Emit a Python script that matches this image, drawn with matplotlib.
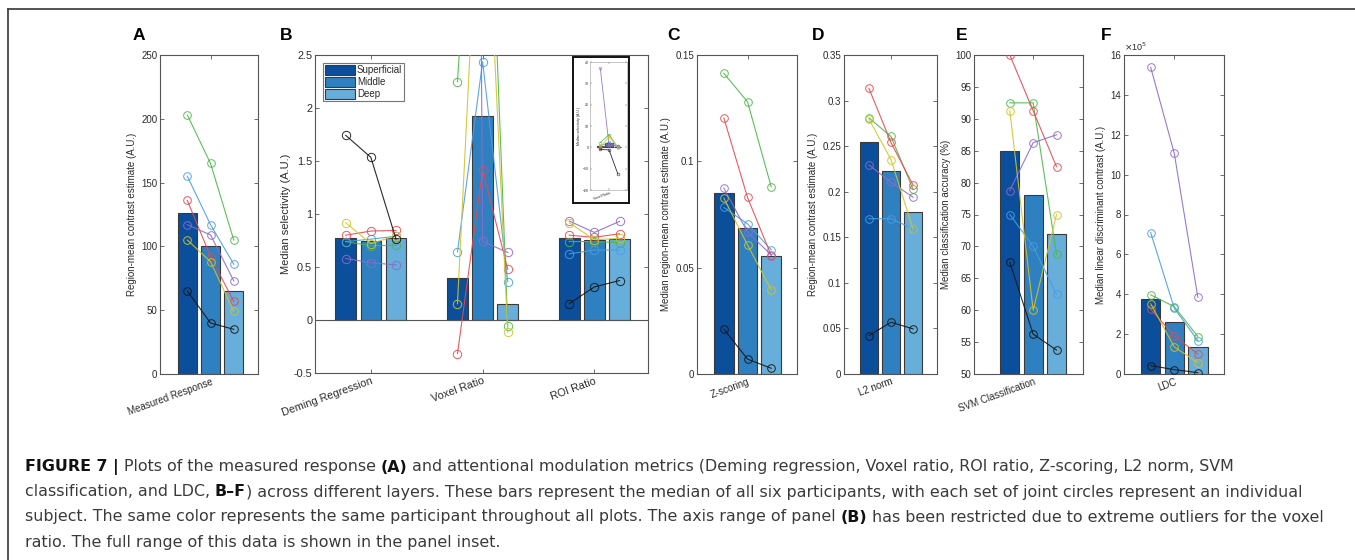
import numpy as np
import matplotlib
matplotlib.use('Agg')
import matplotlib.pyplot as plt
from matplotlib.patches import Rectangle
from matplotlib.lines import Line2D
from matplotlib.ticker import FuncFormatter

plt.rcParams['font.family'] = ['Liberation Sans', 'DejaVu Sans']

layers = ['Superficial', 'Middle', 'Deep']
bar_colors = ['#0b4f9c', '#2f80c0', '#68aedb']
subj_colors = ['#4cb848', '#4a9de0', '#e8484f', '#8e6bc9', '#cfc42a', '#151515']
# subject order: green, blue, red, purple, yellow, black

# A - measured response
measured_med = [126, 100.5, 64.7]
measured_subj = [[203, 165, 105], [155, 117, 86], [136, 92, 57],
                 [117, 109, 73], [105, 88, 49], [65, 40, 35]]

# B - selectivity metrics (Deming, Voxel ratio, ROI ratio)
sel_groups = ['Deming Regression', 'Voxel Ratio', 'ROI Ratio']
sel_med = [[0.773, 0.747, 0.773],
           [0.394, 1.928, 0.154],
           [0.773, 0.754, 0.760]]
sel_subj = [
    # Deming
    [[0.74, 0.70, 0.706], [0.74, 0.763, 0.79], [0.80, 0.839, 0.845],
     [0.58, 0.54, 0.52], [0.918, 0.72, 0.795], [1.742, 1.534, 0.763]],
    # Voxel ratio
    [[2.247, 6.0, -0.06], [0.643, 2.437, 0.362], [-0.317, 1.417, 0.479],
     [37.0, 0.741, 0.637], [0.154, 4.9, -0.115], [-1.0, -1.2, -12.5]],
    # ROI ratio
    [[0.74, 0.74, 0.73], [0.624, 0.66, 0.66], [0.80, 0.78, 0.814],
     [0.934, 0.826, 0.93], [0.918, 0.757, 0.77], [0.154, 0.312, 0.372]],
]

# C - Z-scoring
z_med = [0.085, 0.0686, 0.0556]
z_subj = [[0.1414, 0.128, 0.088], [0.0783, 0.0706, 0.0584], [0.1204, 0.083, 0.0557],
          [0.0874, 0.0667, 0.056], [0.0827, 0.0607, 0.0396], [0.0211, 0.007, 0.0027]]

# D - L2 norm
l2_med = [0.2547, 0.2228, 0.1777]
l2_subj = [[0.281, 0.2606, 0.2027], [0.1704, 0.1704, 0.1594], [0.3133, 0.254, 0.2074],
           [0.2294, 0.2104, 0.194], [0.2796, 0.2353, 0.159], [0.0421, 0.0568, 0.0495]]

# E - SVM classification accuracy (%)
svm_med = [85.0, 78.1, 71.9]
svm_subj = [[92.5, 92.5, 68.75], [75.0, 70.0, 62.5], [100.0, 91.25, 82.5],
            [78.75, 86.25, 87.5], [91.25, 60.0, 75.0], [67.5, 56.25, 53.75]]

# F - LDC (x 1e5)
ldc_med_e5 = [3.77, 2.60, 1.37]
ldc_subj_e5 = [[3.97, 3.38, 1.88], [7.09, 3.30, 1.68], [3.25, 1.91, 1.005],
               [15.38, 11.07, 3.85], [3.52, 1.36, 0.57], [0.42, 0.22, 0.07]]

W, H = 1355, 560
fig = plt.figure(figsize=(W / 100, H / 100), dpi=100)

def fax(x0, y0, x1, y1):
    # pixel box -> figure fraction
    return [x0 / W, 1 - y1 / H, (x1 - x0) / W, (y1 - y0) / H]

off = 0.225
bw = 0.185
axc = '#555555'
txtc = '#2a2a2a'
gfmt = FuncFormatter(lambda v, p: '%g' % round(v, 6))

def style(ax, fs):
    for s in ax.spines.values():
        s.set_color(axc)
        s.set_linewidth(0.8)
    ax.tick_params(direction='in', top=True, right=True, length=3, width=0.6,
                   color=axc, labelsize=fs, labelcolor=txtc, pad=2)

def draw_group(ax, xc, med, subj, ms=5.5):
    xs = [xc - off, xc, xc + off]
    for x, v, c in zip(xs, med, bar_colors):
        ax.bar(x, v, width=bw, color=c, edgecolor='#3a3a3a', linewidth=0.8, zorder=2)
    for vals, c in zip(subj, subj_colors):
        ax.plot(xs, vals, '-o', color=c, lw=0.8, ms=ms, mfc='none', mew=0.7,
                alpha=0.9, zorder=3)

def single_panel(rect, med, subj, ylim, yticks, label, ylab, xl, fs=7):
    ax = fig.add_axes(rect)
    draw_group(ax, 1, med, subj)
    ax.set_xlim(*xl)
    ax.set_ylim(*ylim)
    ax.set_yticks(yticks)
    ax.yaxis.set_major_formatter(gfmt)
    ax.set_xticks([1])
    ax.set_xticklabels([label], rotation=20, ha='right', rotation_mode='anchor',
                       fontsize=fs - 0.3)
    ax.set_ylabel(ylab, fontsize=fs, color=txtc, labelpad=3)
    style(ax, fs)
    return ax

axA = single_panel(fax(160, 55, 258, 374), measured_med, measured_subj, (0, 250),
                   np.arange(0, 251, 50), 'Measured Response',
                   'Region-mean contrast estimate (A.U.)', (0.51, 1.46))

# B
axB = fig.add_axes(fax(315, 55, 648, 373))
for i, g in enumerate(sel_groups):
    draw_group(axB, i + 1, sel_med[i], sel_subj[i], ms=6)
axB.axhline(0, color='#555555', lw=0.8, zorder=2.5)
axB.set_xlim(0.5, 3.48)
axB.set_ylim(-0.5, 2.5)
axB.set_yticks(np.arange(-0.5, 2.51, 0.5))
axB.yaxis.set_major_formatter(gfmt)
axB.set_xticks([1, 2, 3])
axB.set_xticklabels(sel_groups, rotation=20, ha='right', rotation_mode='anchor',
                    fontsize=7.8)
axB.set_ylabel('Median selectivity (A.U.)', fontsize=8, color=txtc, labelpad=2)
style(axB, 7.8)
handles = [Rectangle((0, 0), 1, 1, facecolor=c, edgecolor='#3a3a3a', lw=0.8)
           for c in bar_colors]
leg = axB.legend(handles, layers, loc='upper left', bbox_to_anchor=(0.024, 0.975),
                 fontsize=7, frameon=True, fancybox=False, edgecolor='#555555',
                 handlelength=3.1, handleheight=1.15, handletextpad=0.2,
                 borderpad=0.2, labelspacing=0.2, borderaxespad=0)
leg.get_frame().set_linewidth(0.8)
for t in leg.get_texts():
    t.set_color(txtc)

# inset with full voxel ratio range
fig.patches.append(Rectangle((573 / W, 1 - 203 / H), 56 / W, 146 / H,
                             transform=fig.transFigure, facecolor='white',
                             edgecolor='#111111', lw=1.4, zorder=5))
axI = fig.add_axes(fax(590, 62, 627, 190), zorder=6)
draw_group(axI, 1, sel_med[1], sel_subj[1], ms=2)
for ln in axI.lines:
    ln.set_linewidth(0.6)
    ln.set_markeredgewidth(0.4)
axI.set_xlim(0.51, 1.46)
axI.set_ylim(-20, 40)
axI.set_yticks(np.arange(-20, 41, 10))
axI.set_xticks([1])
axI.set_xticklabels(['Voxel Ratio'], rotation=20, ha='right', rotation_mode='anchor',
                    fontsize=2.5)
axI.set_ylabel('Median selectivity (A.U.)', fontsize=2.5, color=txtc, labelpad=1)
style(axI, 2.5)
axI.tick_params(length=1.2, width=0.3, pad=1)
for s in axI.spines.values():
    s.set_linewidth(0.4)
    s.set_color('#999999')

axC = single_panel(fax(697, 55, 797, 374), z_med, z_subj, (0, 0.15),
                   [0, 0.05, 0.1, 0.15], 'Z-scoring',
                   'Median region-mean contrast estimate (A.U.)', (0.52, 1.47))
axD = single_panel(fax(844, 55, 937, 374), l2_med, l2_subj, (0, 0.35),
                   np.arange(0, 0.351, 0.05), 'L2 norm',
                   'Region-mean contrast estimate (A.U.)', (0.52, 1.47))
axE = single_panel(fax(974, 55, 1083, 374), svm_med, svm_subj, (50, 100),
                   np.arange(50, 101, 5), 'SVM Classification',
                   'Median classification accuracy (%)', (0.43, 1.48))
axF = single_panel(fax(1124, 55, 1224, 374), ldc_med_e5, ldc_subj_e5, (0, 16),
                   np.arange(0, 17, 2), 'LDC',
                   'Median linear discriminant contrast (A.U.)', (0.52, 1.475))
axF.text(0.0, 1.005, r'$\times$10$^5$', transform=axF.transAxes, fontsize=6.5,
         color=txtc, ha='left', va='bottom')

for lab, x in zip('ABCDEF', [133, 280, 667, 812, 956, 1101]):
    fig.text(x / W, 1 - 35 / H, lab, fontsize=12.5, fontweight='bold',
             ha='left', va='center')

# frame lines (top and left)
fig.add_artist(Line2D([8 / W, 1], [1 - 8.5 / H, 1 - 8.5 / H], transform=fig.transFigure,
                      color='#444444', lw=1.3))
fig.add_artist(Line2D([8 / W, 8 / W], [0, 1 - 8.5 / H], transform=fig.transFigure,
                      color='#444444', lw=1.3))

# caption with bold pieces
caption = [
    [('FIGURE 7 |', True), (' Plots of the measured response', False), (' (A)', True),
     (' and attentional modulation metrics (Deming regression, Voxel ratio, ROI ratio, '
      'Z-scoring, L2 norm, SVM', False)],
    [('classification, and LDC,', False), (' B\u2013F', True),
     (') across different layers. These bars represent the median of all six participants, '
      'with each set of joint circles represent an individual', False)],
    [('subject. The same color represents the same participant throughout all plots. '
      'The axis range of panel', False), (' (B)', True),
     (' has been restricted due to extreme outliers for the voxel', False)],
    [('ratio. The full range of this data is shown in the panel inset.', False)],
]
cap_fam = ['DejaVu Sans']
cap_fs = 11.4
fig.canvas.draw()
r = fig.canvas.get_renderer()
sp = fig.text(0, 0, 'a a', fontsize=cap_fs, family=cap_fam)
sp2 = fig.text(0, 0, 'aa', fontsize=cap_fs, family=cap_fam)
space_w = sp.get_window_extent(renderer=r).width - sp2.get_window_extent(renderer=r).width
sp.remove()
sp2.remove()
for k, line in enumerate(caption):
    x = 25
    y = 467 + 25 * k
    for txt, bold in line:
        if txt.startswith(' '):
            x += space_w
            txt = txt[1:]
        t = fig.text(x / W, 1 - y / H, txt, fontsize=cap_fs, family=cap_fam,
                     fontweight='bold' if bold else 'normal',
                     color='#111111' if bold else '#3a3a3a', va='center', ha='left')
        bb = t.get_window_extent(renderer=r)
        x += bb.width

fig.savefig('out.png', dpi=100)
